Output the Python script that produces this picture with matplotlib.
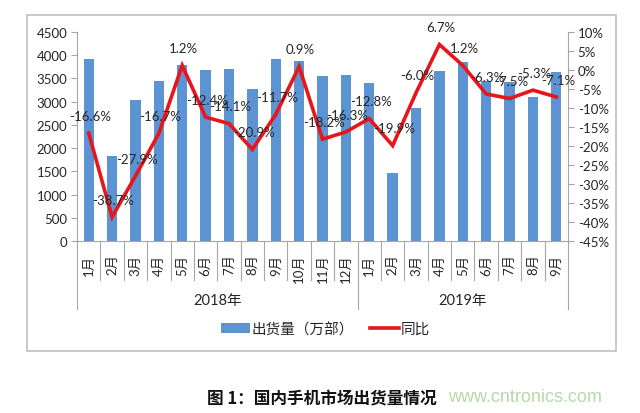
import matplotlib
matplotlib.use("Agg")
import matplotlib.pyplot as plt
from matplotlib.patches import Patch, Rectangle
from matplotlib.lines import Line2D
import matplotlib.transforms as mtransforms
import numpy as np

plt.rcParams['font.family'] = ['Lato', 'Noto Sans CJK SC', 'DejaVu Sans']

months = ["1月", "2月", "3月", "4月", "5月", "6月", "7月", "8月", "9月", "10月", "11月", "12月",
          "1月", "2月", "3月", "4月", "5月", "6月", "7月", "8月", "9月"]
years = ["2018年", "2019年"]
year_counts = [12, 9]
shipments = [3920, 1820, 3030, 3440, 3800, 3680, 3710, 3270, 3920, 3870, 3550, 3580,
             3410, 1460, 2860, 3670, 3850, 3450, 3420, 3100, 3630]
yoy = [-16.6, -38.7, -27.9, -16.7, 1.2, -12.4, -14.1, -20.9, -11.7, 0.9, -18.2, -16.3,
       -12.8, -19.9, -6.0, 6.7, 1.2, -6.3, -7.5, -5.3, -7.1]
series_names = ["出货量（万部）", "同比"]
title = "图 1：国内手机市场出货量情况"
site = "www.cntronics.com"

W, H = 640, 414
fig = plt.figure(figsize=(6.4, 4.14), dpi=100)
ax = fig.add_axes([77 / W, 1 - 242 / H, (568 - 77) / W, (242 - 33) / H])
ax2 = ax.twinx()

bar_color = '#5B93D3'
line_color = '#E8151B'
axis_color = '#A6A6A6'
text_color = '#262626'

x = np.arange(len(months))
ax.bar(x, shipments, width=0.44, color=bar_color, zorder=2)
ax.set_xlim(-0.5, len(months) - 0.5)
ax.set_ylim(0, 4500)
ax.set_yticks(np.arange(0, 4501, 500))
ax.tick_params(axis='y', labelsize=9.5, colors=axis_color, labelcolor=text_color, length=4, width=0.8, pad=3)

ax2.plot(x, yoy, color=line_color, lw=2.6, zorder=3, solid_joinstyle='miter')
ax2.set_ylim(-45, 10)
ax2.set_yticks(np.arange(-45, 11, 5))
ax2.set_yticklabels([f"{v}%" for v in range(-45, 11, 5)])
ax2.tick_params(axis='y', labelsize=9.5, colors=axis_color, labelcolor=text_color, length=4, width=0.8, pad=3)

for v, xi in zip(yoy, x):
    ax2.annotate(f"{v:.1f}%", (xi, v), xytext=(1, 12.5), textcoords='offset points',
                 ha='center', va='center', fontsize=9.5, color=text_color, zorder=4)

for a in (ax, ax2):
    a.spines['top'].set_visible(False)
    for s in ('left', 'right', 'bottom'):
        a.spines[s].set_color(axis_color)
        a.spines[s].set_linewidth(0.8)
ax.spines['right'].set_visible(False)
ax2.spines['left'].set_visible(False)
ax2.spines['bottom'].set_visible(False)

ax.set_xticks(x)
ax.set_xticklabels(months, rotation=90, fontsize=9.5, color=text_color)
ax.tick_params(axis='x', length=0, pad=9)
for lbl in ax.get_xticklabels():
    lbl.set_va('top')

trans = mtransforms.blended_transform_factory(ax.transData, ax.transAxes)
bounds = [0]
for c in year_counts:
    bounds.append(bounds[-1] + c)
short_bottom = -(281 - 242) / (242 - 33)
long_bottom = -(310 - 242) / (242 - 33)
for b in range(len(months) + 1):
    bx = b - 0.5
    bottom = long_bottom if b in bounds else short_bottom
    ax.add_line(Line2D([bx, bx], [0, bottom], transform=trans, color=axis_color,
                       lw=0.8, clip_on=False))
year_y = -(301 - 242) / (242 - 33)
for i, yname in enumerate(years):
    cx = (bounds[i] + bounds[i + 1]) / 2 - 0.5
    ax.text(cx, year_y, yname, transform=trans, ha='center', va='center',
            fontsize=10.5, color=text_color)

handles = [Patch(facecolor=bar_color, edgecolor='none'),
           Line2D([0], [0], color=line_color, lw=2.6)]
fig.legend(handles, series_names, loc='center', bbox_to_anchor=(325 / W, 1 - 330 / H),
           ncol=2, frameon=False, fontsize=10.5, handlelength=2.0, handletextpad=0.1,
           columnspacing=1.1, labelcolor=text_color)

fig.add_artist(Rectangle((27 / W, 1 - 352 / H), (616 - 27) / W, (352 - 16) / H,
                         transform=fig.transFigure, fill=False, edgecolor='#BFBFBF', lw=1.2))

fig.text(322 / W, 1 - 398 / H, title, ha='center', va='center', fontsize=12,
         fontweight='bold', color='#111111', family=['Noto Sans CJK SC', 'DejaVu Sans'])
fig.text(525 / W, 1 - 398 / H, site, ha='center', va='center', fontsize=13,
         color='#B4D9AA', family=['Liberation Sans'])

fig.savefig('out.png', dpi=100)
